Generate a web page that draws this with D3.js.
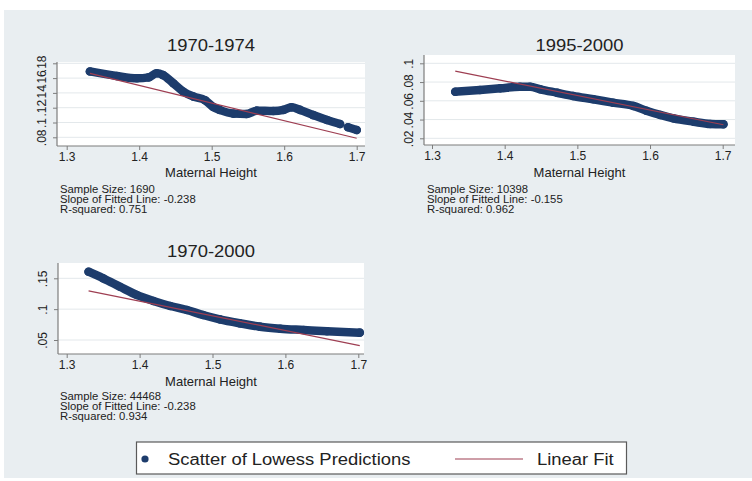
<!DOCTYPE html>
<html>
<head>
<meta charset="utf-8">
<script src="https://cdn.jsdelivr.net/npm/d3@7"></script>
<style>
body { margin: 0; background: #fff; }
text { font-family: "Liberation Sans", Arial, sans-serif; fill: #222; }
</style>
</head>
<body>
<svg id="chart" width="752" height="481"></svg>
<script>
// values
const titles = ["1970-1974", "1995-2000", "1970-2000"]
const xTicks = [1.3, 1.4, 1.5, 1.6, 1.7]
const yTicks1 = [.08, .1, .12, .14, .16, .18]
const yTicks2 = [.02, .04, .06, .08, .1]
const yTicks3 = [.05, .1, .15]

const heights1 = [1.332,1.369,1.397,1.413,1.424,1.433,1.447,1.461,1.475,1.491,1.502,1.511,1.530,1.548,1.562,1.585,1.599,1.610,1.622,1.640,1.659,1.677,1.682,1.688,1.700]
const lowess1  = [.169,.1628,.1597,.161,.1665,.164,.153,.1416,.135,.130,.121,.117,.112,.1115,.116,.1155,.117,.1205,.117,.110,.1034,.098,null,.0935,.0899]

const heights2 = [1.332,1.366,1.394,1.421,1.435,1.449,1.472,1.494,1.522,1.549,1.577,1.595,1.614,1.632,1.660,1.683,1.701]
const lowess2  = [.0697,.0715,.0733,.075,.075,.0723,.0686,.0651,.0616,.058,.0545,.0494,.0449,.0413,.0377,.0353,.035]

const heights3 = [1.330,1.350,1.373,1.396,1.419,1.442,1.465,1.487,1.510,1.538,1.565,1.593,1.625,1.657,1.702]
const lowess3  = [.1607,.150,.1364,.123,.1132,.1051,.0986,.0905,.0835,.077,.0716,.0683,.0662,.0641,.0619]

const slopes = [-0.238, -0.155, -0.238]
const intercepts = [.4833, .2981, .4461]
const sampleSizes = [1690, 10398, 44468]
const rSquared = ["0.751", "0.962", "0.934"]

const legendLabels = ["Scatter of Lowess Predictions", "Linear Fit"]

// layout
const layout = [
  {box: [57, 62, 308, 84], xr: [66.7, 356.7], yr: [137.3, 63.3], titleY: 50.7, labelY: 176.7, notesX: 60, notesY: 193},
  {box: [424, 55, 311, 90], xr: [432, 722.7], yr: [138.3, 63.3], titleY: 50.7, labelY: 176.7, notesX: 427, notesY: 193},
  {box: [58, 263, 306, 91], xr: [66.7, 358.3], yr: [340, 278.3], titleY: 257, labelY: 385.7, notesX: 60, notesY: 399.5}
]
const navy = "#1d3c6c", fitColor = "#9e3e52", axisColor = "#7d7d7d"

const panels = [
  {heights: heights1, lowess: lowess1, yTicks: yTicks1},
  {heights: heights2, lowess: lowess2, yTicks: yTicks2},
  {heights: heights3, lowess: lowess3, yTicks: yTicks3}
].map((p, i) => Object.assign(p, layout[i], {title: titles[i], slope: slopes[i], intercept: intercepts[i], n: sampleSizes[i], r2: rSquared[i]}))

// stretch text a little wider, the source is drawn a bit wide
function widen(sel, k) {
  sel.each(function() {
    const w = this.getComputedTextLength()
    d3.select(this).attr("textLength", w * k).attr("lengthAdjust", "spacingAndGlyphs")
  })
}

const svg = d3.select("#chart")
svg.append("rect").attr("x", 4).attr("y", 10).attr("width", 748).attr("height", 468).attr("fill", "#e9eef1")

const fmtY = d => d3.format("~g")(d).replace(/^0\./, ".")

panels.forEach(p => {
  const [bx, by, bw, bh] = p.box
  const x = d3.scaleLinear().domain([1.3, 1.7]).range(p.xr)
  const y = d3.scaleLinear().domain([p.yTicks[0], p.yTicks[p.yTicks.length - 1]]).range(p.yr)
  const g = svg.append("g")

  g.append("rect").attr("x", bx).attr("y", by).attr("width", bw).attr("height", bh).attr("fill", "#fff")

  g.selectAll("line.grid").data(p.yTicks).join("line")
    .attr("class", "grid")
    .attr("x1", bx).attr("x2", bx + bw)
    .attr("y1", y).attr("y2", y)
    .attr("stroke", "#e3e8eb").attr("stroke-width", 1)

  // lowess band
  const pts = p.heights.map((h, i) => [h, p.lowess[i]])
  const line = d3.line().defined(d => d[1] != null).x(d => x(d[0])).y(d => y(d[1])).curve(d3.curveMonotoneX)
  g.append("path").attr("d", line(pts))
    .attr("fill", "none").attr("stroke", navy).attr("stroke-width", 8.5)
    .attr("stroke-linecap", "round").attr("stroke-linejoin", "round")
  g.selectAll("circle").data(pts.filter(d => d[1] != null)).join("circle")
    .attr("cx", d => x(d[0])).attr("cy", d => y(d[1])).attr("r", 4.3).attr("fill", navy)

  // linear fit on top
  const h0 = d3.min(p.heights), h1 = d3.max(p.heights)
  g.append("line")
    .attr("x1", x(h0)).attr("y1", y(p.intercept + p.slope * h0))
    .attr("x2", x(h1)).attr("y2", y(p.intercept + p.slope * h1))
    .attr("stroke", fitColor).attr("stroke-width", 1.2)

  // x axis
  const xa = g.append("g").attr("transform", "translate(0," + (by + bh) + ")")
    .call(d3.axisBottom(x).tickValues(xTicks).tickSize(4).tickPadding(2).tickFormat(d3.format(".1f")))
  xa.select(".domain").remove()
  xa.selectAll("line").attr("stroke", axisColor)
  xa.selectAll("text").style("font-size", "12px").attr("fill", "#222")
  g.append("line").attr("x1", bx).attr("x2", bx + bw).attr("y1", by + bh).attr("y2", by + bh)
    .attr("stroke", axisColor).attr("stroke-width", 1.2)

  // y axis, labels turned like Stata
  const ya = g.append("g").attr("transform", "translate(" + bx + ",0)")
    .call(d3.axisLeft(y).tickValues(p.yTicks).tickSize(4).tickFormat(fmtY))
  ya.select(".domain").remove()
  ya.selectAll("line").attr("stroke", axisColor)
  ya.selectAll("text")
    .attr("transform", "rotate(-90)").attr("x", 0).attr("y", -11).attr("dy", 0)
    .attr("text-anchor", "middle").style("font-size", "12px").attr("fill", "#222")
  g.append("line").attr("x1", bx).attr("x2", bx).attr("y1", by).attr("y2", by + bh)
    .attr("stroke", axisColor).attr("stroke-width", 1.2)

  g.append("text").attr("x", bx + bw / 2).attr("y", p.titleY)
    .attr("text-anchor", "middle").style("font-size", "16px").text(p.title)
    .call(widen, 1.15)

  g.append("text").attr("x", bx + bw / 2).attr("y", p.labelY)
    .attr("text-anchor", "middle").style("font-size", "13px").text("Maternal Height")

  const notes = ["Sample Size: " + p.n, "Slope of Fitted Line: " + p.slope.toFixed(3), "R-squared: " + p.r2]
  g.selectAll("text.note").data(notes).join("text")
    .attr("class", "note")
    .attr("x", p.notesX).attr("y", (d, i) => p.notesY + i * 10)
    .style("font-size", "10px").attr("fill", "#333").text(d => d)
    .call(widen, 1.13)
})

// legend
const lg = svg.append("g")
lg.append("rect").attr("x", 136.5).attr("y", 442).attr("width", 490).attr("height", 32)
  .attr("fill", "#fff").attr("stroke", "#5a5a5a").attr("stroke-width", 1.2)
lg.append("circle").attr("cx", 145).attr("cy", 459).attr("r", 3.6).attr("fill", navy)
lg.append("text").attr("x", 168).attr("y", 464.5).style("font-size", "16px").text(legendLabels[0]).call(widen, 1.15)
lg.append("line").attr("x1", 455).attr("x2", 523).attr("y1", 459).attr("y2", 459)
  .attr("stroke", fitColor).attr("stroke-width", 1.2)
lg.append("text").attr("x", 537).attr("y", 464.5).style("font-size", "16px").text(legendLabels[1]).call(widen, 1.15)
</script>
</body>
</html>
